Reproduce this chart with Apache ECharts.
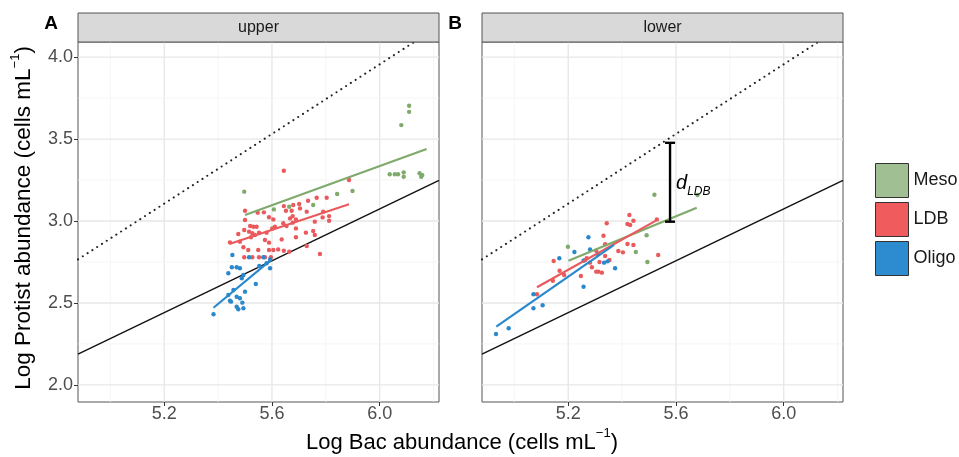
<!DOCTYPE html>
<html><head><meta charset="utf-8">
<script src="https://cdn.jsdelivr.net/npm/echarts@6/dist/echarts.min.js"></script>
<style>html,body{margin:0;padding:0;background:#fff}#c{width:959px;height:457px}</style>
</head><body><div id="c"></div>
<script>
// ---- axis settings / tick labels ----
const xMin = 4.88, xMax = 6.22, yMin = 1.896, yMax = 4.092;
const xTicks = [5.2, 5.6, 6.0];
const xMinorTicks = [5.0, 5.4, 5.8, 6.2];
const yTicks = [2.0, 2.5, 3.0, 3.5, 4.0];
const yMinorTicks = [2.25, 2.75, 3.25, 3.75];
const panels = ['upper', 'lower'];
const panelLetters = ['A', 'B'];
const groups = ['Meso', 'LDB', 'Oligo'];

// ---- data: panel A (upper) ----
const upperMeso = [[5.497,3.179],[5.607,3.071],[5.664,3.087],[5.753,3.098],[5.842,3.165],[5.899,3.183],
  [6.109,3.703],[6.109,3.666],[6.080,3.585],[6.037,3.285],[6.056,3.285],[6.068,3.285],[6.089,3.297],
  [6.089,3.270],[6.148,3.291],[6.154,3.270],[6.158,3.280]];
const upperLDB = [[5.644,3.307],[5.886,3.250],[5.766,3.142],[5.803,3.142],[5.734,3.124],[5.701,3.104],
  [5.679,3.098],[5.644,3.091],[5.704,3.077],[5.673,3.063],[5.652,3.063],[5.729,3.057],[5.790,3.057],
  [5.677,3.030],[5.667,3.016],[5.689,3.010],[5.812,3.030],[5.788,3.022],[5.812,3.002],[5.759,2.996],
  [5.642,2.986],[5.654,2.970],[5.689,2.955],[5.726,2.929],[5.753,2.939],[5.759,2.915],[5.689,2.901],
  [5.636,2.888],[5.729,2.848],[5.644,2.819],[5.664,2.813],[5.778,2.799],[5.677,2.990],
  [5.500,3.063],[5.547,3.051],[5.570,3.053],[5.589,3.023],[5.605,3.010],[5.500,3.006],[5.519,2.970],
  [5.531,2.965],[5.543,2.965],[5.497,2.945],[5.515,2.935],[5.527,2.925],[5.537,2.915],[5.522,2.901],
  [5.552,2.929],[5.580,2.929],[5.601,2.955],[5.574,2.884],[5.589,2.868],[5.444,2.870],[5.481,2.874],
  [5.494,2.840],[5.549,2.823],[5.589,2.823],[5.605,2.823],[5.623,2.827],[5.497,2.779],[5.527,2.779],
  [5.552,2.779],[5.574,2.779],[5.596,2.779],[5.512,2.823],[5.475,2.921],[5.611,2.965]];
const upperOligo = [[5.453,2.793],[5.515,2.779],[5.568,2.779],[5.593,2.766],[5.451,2.718],[5.469,2.718],
  [5.481,2.712],[5.438,2.681],[5.494,2.671],[5.488,2.651],[5.540,2.616],[5.580,2.742],[5.593,2.712],
  [5.553,2.726],[5.457,2.579],[5.500,2.569],[5.438,2.549],[5.469,2.538],[5.481,2.529],[5.448,2.508],
  [5.490,2.502],[5.469,2.477],[5.475,2.462],[5.494,2.468],[5.383,2.431],[5.444,2.514]];

// ---- data: panel B (lower) ----
const lowerMeso = [[5.520,3.160],[5.199,2.843],[5.491,2.913],[5.451,2.811],[5.494,2.750],[5.680,3.159]];
const lowerLDB = [[5.427,3.037],[5.420,2.982],[5.442,3.002],[5.430,2.976],[5.343,2.986],[5.529,3.010],
  [5.534,2.793],[5.331,2.910],[5.442,2.854],[5.420,2.860],[5.386,2.817],[5.403,2.809],[5.337,2.858],
  [5.304,2.819],[5.337,2.787],[5.269,2.773],[5.263,2.762],[5.281,2.746],[5.316,2.750],[5.288,2.718],
  [5.304,2.691],[5.312,2.691],[5.325,2.685],[5.146,2.756],[5.168,2.697],[5.185,2.671],[5.143,2.636],
  [5.247,2.665],[5.084,2.553],[5.353,2.762]];
const lowerOligo = [[4.932,2.311],[4.979,2.346],[5.071,2.468],[5.105,2.486],[5.071,2.553],[5.257,2.599],
  [5.167,2.773],[5.223,2.811],[5.275,2.901],[5.281,2.827],[5.257,2.758],[5.333,2.746],[5.346,2.754],
  [5.374,2.712],[5.310,2.799]];

// ---- fitted lines (endpoints) ----
const upperFitMeso = [[5.500,3.037],[6.174,3.439]];
const upperFitLDB = [[5.442,2.860],[5.886,3.102]];
const upperFitOligo = [[5.383,2.471],[5.599,2.766]];
const lowerFitMeso = [[5.201,2.758],[5.677,3.081]];
const lowerFitLDB = [[5.084,2.596],[5.534,3.010]];
const lowerFitOligo = [[4.933,2.356],[5.370,2.854]];

// ---- reference lines ----
const refDotted = [[4.88,2.766],[6.22,4.190]];
const refSolid = [[4.88,2.188],[6.22,3.248]];

// ---- d_LDB bracket (lower panel) ----
const dLDB = [[5.578, 2.996, 3.477]];

// ---- styling ----
const pointColors = {Meso:'#7faa6c', LDB:'#ea5a5d', Oligo:'#2a88cc'};
const legendColors = {Meso:'#a0bf93', LDB:'#f05b5e', Oligo:'#2d8bd0'};
const FONT = 'Liberation Sans, Arial, sans-serif';

const pointsByPanel = [
  {Meso: upperMeso, LDB: upperLDB, Oligo: upperOligo},
  {Meso: lowerMeso, LDB: lowerLDB, Oligo: lowerOligo}
];
const fitsByPanel = [
  {Meso: upperFitMeso, LDB: upperFitLDB, Oligo: upperFitOligo},
  {Meso: lowerFitMeso, LDB: lowerFitLDB, Oligo: lowerFitOligo}
];

const gridLeft = [78, 482], gridTop = 42, gridW = 361, gridH = 360;

const gridData = [];
xTicks.forEach(v => gridData.push([v, 0, 0]));
xMinorTicks.forEach(v => gridData.push([v, 0, 1]));
yTicks.forEach(v => gridData.push([v, 1, 0]));
yMinorTicks.forEach(v => gridData.push([v, 1, 1]));

function gridRender(params, api) {
  const v = api.value(0), isY = api.value(1) === 1, minor = api.value(2) === 1;
  const cs = params.coordSys;
  const style = {stroke: minor ? '#f3f3f3' : '#e7e7e7', lineWidth: minor ? 0.8 : 1.3};
  if (!isY) {
    const px = api.coord([v, (yMin + yMax) / 2])[0];
    return {type: 'line', shape: {x1: px, y1: cs.y, x2: px, y2: cs.y + cs.height}, style};
  }
  const py = api.coord([(xMin + xMax) / 2, v])[1];
  return {type: 'line', shape: {x1: cs.x, y1: py, x2: cs.x + cs.width, y2: py}, style};
}

const grids = [], xAxes = [], yAxes = [], series = [];
panels.forEach((p, i) => {
  grids.push({left: gridLeft[i], top: gridTop, width: gridW, height: gridH, show: true,
    borderColor: '#555', borderWidth: 1, backgroundColor: '#fff', z: 0});
  xAxes.push({gridIndex: i, type: 'value', min: xMin, max: xMax,
    axisLine: {show: false}, splitLine: {show: false},
    axisTick: {show: true, length: 4, customValues: xTicks, lineStyle: {color: '#333'}},
    axisLabel: {customValues: xTicks, formatter: v => v.toFixed(1), color: '#4d4d4d',
      fontSize: 18, fontFamily: FONT, margin: 3}});
  yAxes.push({gridIndex: i, type: 'value', min: yMin, max: yMax,
    axisLine: {show: false}, splitLine: {show: false},
    axisTick: {show: i === 0, length: 4, customValues: yTicks, lineStyle: {color: '#333'}},
    axisLabel: {show: i === 0, customValues: yTicks, formatter: v => v.toFixed(1), color: '#4d4d4d',
      fontSize: 18, fontFamily: FONT, margin: 5}});
  series.push({type: 'custom', xAxisIndex: i, yAxisIndex: i, data: gridData, renderItem: gridRender,
    encode: {x: 0, y: 1}, silent: true, z: 1});
  series.push({type: 'line', xAxisIndex: i, yAxisIndex: i, data: refDotted, symbol: 'none', silent: true,
    clip: true, z: 3, lineStyle: {color: '#222', width: 2, type: [0.1, 5.6], cap: 'round'}});
  series.push({type: 'line', xAxisIndex: i, yAxisIndex: i, data: refSolid, symbol: 'none', silent: true,
    clip: true, z: 3, lineStyle: {color: '#111', width: 1.4}});
  groups.forEach(g => {
    series.push({type: 'scatter', name: g, xAxisIndex: i, yAxisIndex: i, data: pointsByPanel[i][g],
      symbol: 'circle', symbolSize: 4.4, itemStyle: {color: pointColors[g], opacity: 1}, z: 4});
  });
  groups.forEach(g => {
    series.push({type: 'line', name: g + ' fit', xAxisIndex: i, yAxisIndex: i, data: fitsByPanel[i][g],
      symbol: 'none', silent: true, z: 5, lineStyle: {color: pointColors[g], width: 2.2}});
  });
});

series.push({type: 'custom', xAxisIndex: 1, yAxisIndex: 1, data: dLDB, encode: {x: 0, y: [1, 2]}, z: 6,
  renderItem: function (params, api) {
    const x = api.value(0);
    const lo = api.coord([x, api.value(1)]);
    const hi = api.coord([x, api.value(2)]);
    const st = {stroke: '#000', lineWidth: 2.4};
    return {type: 'group', children: [
      {type: 'line', shape: {x1: lo[0], y1: lo[1], x2: hi[0], y2: hi[1]}, style: st},
      {type: 'line', shape: {x1: hi[0] - 5, y1: hi[1], x2: hi[0] + 5, y2: hi[1]}, style: st},
      {type: 'line', shape: {x1: lo[0] - 5, y1: lo[1], x2: lo[0] + 5, y2: lo[1]}, style: st},
      {type: 'text', x: hi[0] + 6, y: (hi[1] + lo[1]) / 2 + 3, style: {
        text: '{d|d}{s|LDB}', verticalAlign: 'middle', align: 'left',
        rich: {d: {fontSize: 20, fontStyle: 'italic', fontFamily: FONT, fill: '#000', lineHeight: 24, verticalAlign: 'top'},
               s: {fontSize: 12, fontStyle: 'italic', fontFamily: FONT, fill: '#000', lineHeight: 24, verticalAlign: 'bottom', padding: [8, 0, 0, 0]}}}}
    ]};
  }});

const graphic = [];
panels.forEach((p, i) => {
  graphic.push({type: 'rect', shape: {x: gridLeft[i], y: 13, width: gridW, height: 29},
    style: {fill: '#d9d9d9', stroke: '#555', lineWidth: 1}, z: 10});
  graphic.push({type: 'text', x: gridLeft[i] + gridW / 2, y: 28, z: 11,
    style: {text: p, fill: '#1a1a1a', font: '16px ' + FONT, align: 'center', verticalAlign: 'middle'}});
  graphic.push({type: 'text', x: gridLeft[i] - 27, y: 24, z: 11,
    style: {text: panelLetters[i], fill: '#000', font: 'bold 19px ' + FONT, align: 'center', verticalAlign: 'middle'}});
});
graphic.push({type: 'text', x: 462, y: 440, z: 11, style: {
  text: '{a|Log Bac abundance (cells mL}{s|−1}{a|)}', align: 'center', verticalAlign: 'middle',
  rich: {a: {fontSize: 22, fontFamily: FONT, fill: '#000', lineHeight: 27, verticalAlign: 'bottom'},
         s: {fontSize: 13, fontFamily: FONT, fill: '#000', lineHeight: 27, verticalAlign: 'top', padding: [0, 0, 10, 0]}}}});
graphic.push({type: 'text', x: 22, y: 218, rotation: Math.PI / 2, z: 11, style: {
  text: '{a|Log Protist abundance (cells mL}{s|−1}{a|)}', align: 'center', verticalAlign: 'middle',
  rich: {a: {fontSize: 22.5, fontFamily: FONT, fill: '#000', lineHeight: 27, verticalAlign: 'bottom'},
         s: {fontSize: 13, fontFamily: FONT, fill: '#000', lineHeight: 27, verticalAlign: 'top', padding: [0, 0, 10, 0]}}}});

const option = {
  animation: false,
  backgroundColor: '#fff',
  grid: grids, xAxis: xAxes, yAxis: yAxes, series, graphic,
  legend: {orient: 'vertical', left: 875, top: 163, padding: 0, itemGap: 4, itemWidth: 33, itemHeight: 34,
    icon: 'rect', selectedMode: false,
    textStyle: {fontSize: 18, fontFamily: FONT, color: '#1a1a1a'},
    data: groups.map(g => ({name: g, itemStyle: {color: legendColors[g], borderColor: '#333', borderWidth: 1}}))}
};
const chart = echarts.init(document.getElementById('c'), null, {renderer: 'canvas'});
chart.setOption(option);
</script></body></html>
